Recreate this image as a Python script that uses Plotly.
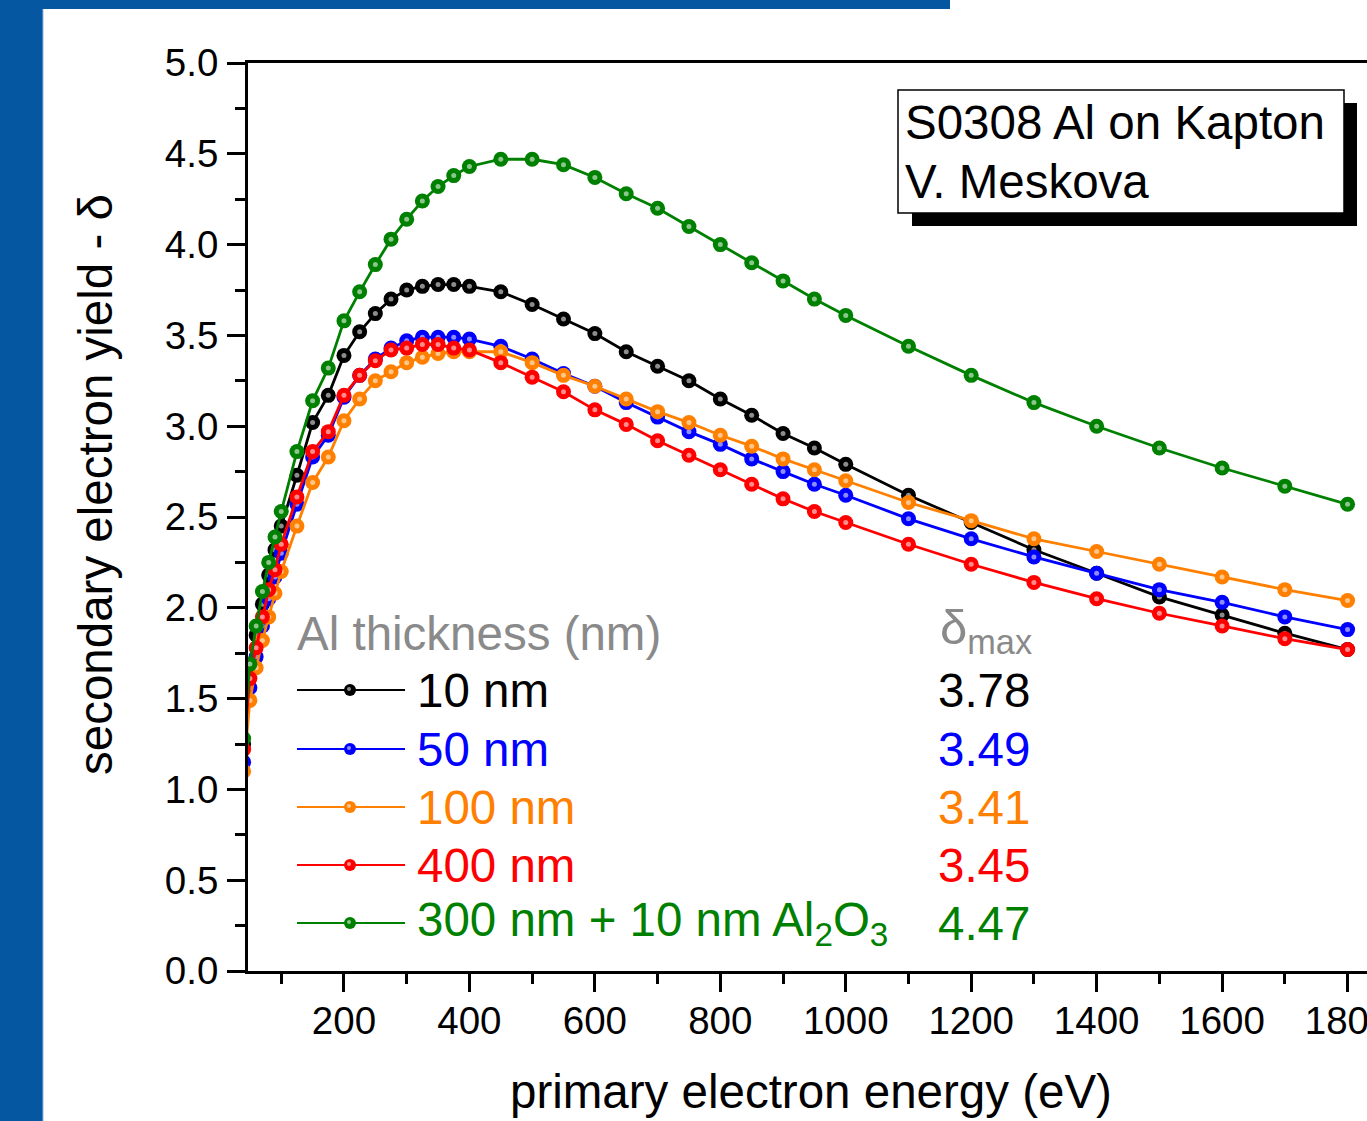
import plotly.graph_objects as go

# ---------------- data ----------------
energy = [40, 50, 60, 70, 80, 90, 100,
          125, 150, 175, 200, 225, 250, 275, 300, 325, 350, 375, 400,
          450, 500, 550, 600, 650, 700, 750, 800, 850, 900, 950, 1000,
          1100, 1200, 1300, 1400, 1500, 1600, 1700, 1800]

sey_10nm = [1.25, 1.66, 1.85, 2.02, 2.18, 2.32, 2.45,
            2.73, 3.02, 3.17, 3.39, 3.52, 3.62, 3.70, 3.75, 3.77, 3.78, 3.78, 3.77,
            3.74, 3.67, 3.59, 3.51, 3.41, 3.33, 3.25, 3.15, 3.06, 2.96, 2.88, 2.79,
            2.62, 2.47, 2.32, 2.19, 2.06, 1.96, 1.86, 1.77]
sey_50nm = [1.15, 1.56, 1.73, 1.90, 2.05, 2.17, 2.30,
            2.57, 2.83, 2.95, 3.16, 3.28, 3.37, 3.43, 3.47, 3.49, 3.49, 3.49, 3.48,
            3.44, 3.37, 3.29, 3.22, 3.13, 3.05, 2.97, 2.90, 2.82, 2.75, 2.68, 2.62,
            2.49, 2.38, 2.28, 2.19, 2.10, 2.03, 1.95, 1.88]
sey_100nm = [1.10, 1.49, 1.67, 1.82, 1.95, 2.08, 2.20,
             2.45, 2.69, 2.83, 3.03, 3.15, 3.25, 3.30, 3.35, 3.38, 3.40, 3.41, 3.41,
             3.41, 3.35, 3.28, 3.22, 3.15, 3.08, 3.02, 2.95, 2.89, 2.82, 2.76, 2.70,
             2.58, 2.48, 2.38, 2.31, 2.24, 2.17, 2.10, 2.04]
sey_400nm = [1.22, 1.61, 1.78, 1.95, 2.10, 2.21, 2.35,
             2.61, 2.86, 2.97, 3.17, 3.28, 3.36, 3.42, 3.43, 3.45, 3.45, 3.43, 3.42,
             3.35, 3.27, 3.19, 3.09, 3.01, 2.92, 2.84, 2.76, 2.68, 2.60, 2.53, 2.47,
             2.35, 2.24, 2.14, 2.05, 1.97, 1.90, 1.83, 1.77]
sey_300nm_al2o3 = [1.28, 1.69, 1.90, 2.09, 2.25, 2.39, 2.53,
                   2.86, 3.14, 3.32, 3.58, 3.74, 3.89, 4.03, 4.14, 4.24, 4.32, 4.38, 4.43,
                   4.47, 4.47, 4.44, 4.37, 4.28, 4.20, 4.10, 4.00, 3.90, 3.80, 3.70, 3.61,
                   3.44, 3.28, 3.13, 3.00, 2.88, 2.77, 2.67, 2.57]

series_names = ["10 nm", "50 nm", "100 nm", "400 nm",
                "300 nm + 10 nm Al<sub>2</sub>O<sub>3</sub>"]
series_values = [sey_10nm, sey_50nm, sey_100nm, sey_400nm, sey_300nm_al2o3]
series_colors = ["#000000", "#0000FF", "#FF8000", "#FF0000", "#008000"]
delta_max = ["3.78", "3.49", "3.41", "3.45", "4.47"]

x_ticks = [200, 400, 600, 800, 1000, 1200, 1400, 1600, 1800]
x_minor = [100, 300, 500, 700, 900, 1100, 1300, 1500, 1700]
y_ticks = [0.0, 0.5, 1.0, 1.5, 2.0, 2.5, 3.0, 3.5, 4.0, 4.5, 5.0]

FONT = "Liberation Sans, Arial, Helvetica, sans-serif"
BIG = 47.5
TICK = 38.5
BLUE_FRAME = "#0457A0"

# ---------------- layout geometry (pixels) ----------------
FIG_W, FIG_H = 1367, 1121
L, T, W, H = 248, 63, 1119, 908


def PX(x):
    return (x - L) / W


def PY(y):
    return (T + H - y) / H


fig = go.Figure()

for name, vals, col in zip(series_names, series_values, series_colors):
    fig.add_trace(go.Scatter(
        x=energy, y=vals, mode="lines+markers", name=name,
        line=dict(color=col, width=2.8),
        marker=dict(size=15, color=col, line=dict(width=0)),
        showlegend=False, hoverinfo="x+y"))
    # small glossy highlight on each sphere marker
    fig.add_trace(go.Scatter(
        x=energy, y=vals, mode="markers",
        marker=dict(size=5, color="rgba(255,255,255,0.55)", line=dict(width=0)),
        showlegend=False, hoverinfo="skip"))

shapes = []
annotations = []

# blue frame decoration (page background)
shapes.append(dict(type="rect", xref="paper", yref="paper",
                   x0=PX(0), x1=PX(43), y0=PY(FIG_H), y1=PY(0),
                   fillcolor=BLUE_FRAME, line=dict(width=0), layer="above"))
shapes.append(dict(type="rect", xref="paper", yref="paper",
                   x0=PX(0), x1=PX(950), y0=PY(9), y1=PY(0),
                   fillcolor=BLUE_FRAME, line=dict(width=0), layer="above"))
shapes.append(dict(type="line", xref="paper", yref="paper",
                   x0=PX(43), x1=PX(43), y0=PY(FIG_H), y1=PY(9),
                   line=dict(color="#8FB6E0", width=1), layer="above"))

# sample info box with drop shadow
shapes.append(dict(type="rect", xref="paper", yref="paper",
                   x0=PX(912), x1=PX(1357), y0=PY(226), y1=PY(103),
                   fillcolor="black", line=dict(width=0), layer="above"))
shapes.append(dict(type="rect", xref="paper", yref="paper",
                   x0=PX(898), x1=PX(1344), y0=PY(213), y1=PY(90),
                   fillcolor="white", line=dict(color="black", width=1.5), layer="above"))
annotations.append(dict(text="S0308 Al on Kapton", xref="paper", yref="paper",
                        x=PX(903), y=PY(122), xanchor="left", yanchor="middle",
                        showarrow=False, font=dict(family=FONT, size=BIG, color="black")))
annotations.append(dict(text="V. Meskova", xref="paper", yref="paper",
                        x=PX(903), y=PY(182), xanchor="left", yanchor="middle",
                        showarrow=False, font=dict(family=FONT, size=BIG, color="black")))

# custom legend
annotations.append(dict(text="Al thickness (nm)", xref="paper", yref="paper",
                        x=PX(295), y=PY(633), xanchor="left", yanchor="middle",
                        showarrow=False, font=dict(family=FONT, size=BIG, color="#8A8A8A")))
annotations.append(dict(text="δ<sub>max</sub>", xref="paper", yref="paper",
                        x=PX(938), y=PY(630), xanchor="left", yanchor="middle",
                        showarrow=False, font=dict(family=FONT, size=49, color="#8A8A8A")))
row_y = [690, 749, 807, 865, 923]
for ry, name, col, dm in zip(row_y, series_names, series_colors, delta_max):
    shapes.append(dict(type="line", xref="paper", yref="paper",
                       x0=PX(297), x1=PX(405), y0=PY(ry), y1=PY(ry),
                       line=dict(color=col, width=2.2), layer="above"))
    shapes.append(dict(type="circle", xref="paper", yref="paper",
                       xsizemode="pixel", ysizemode="pixel",
                       xanchor=PX(350), yanchor=PY(ry),
                       x0=-6, x1=6, y0=-6, y1=6,
                       fillcolor=col, line=dict(width=0), layer="above"))
    shapes.append(dict(type="circle", xref="paper", yref="paper",
                       xsizemode="pixel", ysizemode="pixel",
                       xanchor=PX(349), yanchor=PY(ry - 1),
                       x0=-2, x1=2, y0=-2, y1=2,
                       fillcolor="rgba(255,255,255,0.55)", line=dict(width=0), layer="above"))
    annotations.append(dict(text=name, xref="paper", yref="paper",
                            x=PX(415), y=PY(ry), xanchor="left", yanchor="middle",
                            showarrow=False, font=dict(family=FONT, size=BIG, color=col)))
    annotations.append(dict(text=dm, xref="paper", yref="paper",
                            x=PX(936), y=PY(ry), xanchor="left", yanchor="middle",
                            showarrow=False, font=dict(family=FONT, size=BIG, color=col)))

# axis titles
annotations.append(dict(text="primary electron energy (eV)", xref="paper", yref="paper",
                        x=PX(811), y=PY(1091), xanchor="center", yanchor="middle",
                        showarrow=False, font=dict(family=FONT, size=BIG, color="black")))
annotations.append(dict(text="secondary electron yield - δ", xref="paper", yref="paper",
                        x=PX(96), y=PY(485), xanchor="center", yanchor="middle",
                        textangle=-90,
                        showarrow=False, font=dict(family=FONT, size=BIG, color="black")))

fig.update_layout(
    width=FIG_W, height=FIG_H, autosize=False,
    margin=dict(l=L, r=FIG_W - L - W, t=T, b=FIG_H - T - H, pad=0),
    paper_bgcolor="white", plot_bgcolor="white",
    font=dict(family=FONT, color="black"),
    shapes=shapes, annotations=annotations, showlegend=False,
)

fig.update_xaxes(
    range=[47, 1831], tickvals=x_ticks, ticktext=[str(v) for v in x_ticks],
    ticks="outside", ticklen=18, tickwidth=2.5, tickcolor="black",
    showline=True, linewidth=2.8, linecolor="black", mirror=True,
    showgrid=False, zeroline=False, automargin=False,
    tickfont=dict(family=FONT, size=TICK, color="black"),
    ticklabelstandoff=-4, ticklabeloverflow="allow",
    minor=dict(tickvals=x_minor, ticks="outside", ticklen=10, tickwidth=2.5,
               tickcolor="black", showgrid=False),
)
fig.update_yaxes(
    range=[0, 5], tickvals=y_ticks, ticktext=[f"{v:.1f}" for v in y_ticks],
    ticks="outside", ticklen=18, tickwidth=2.5, tickcolor="black",
    showline=True, linewidth=2.8, linecolor="black", mirror=False,
    showgrid=False, zeroline=False, automargin=False,
    tickfont=dict(family=FONT, size=TICK, color="black"),
    ticklabelstandoff=1,
    minor=dict(dtick=0.25, ticks="outside", ticklen=10, tickwidth=2.5,
               tickcolor="black", showgrid=False),
)

fig.write_html("out.html", config={"displayModeBar": False},
               post_script="document.body.style.margin='0';document.body.style.overflow='hidden';")
